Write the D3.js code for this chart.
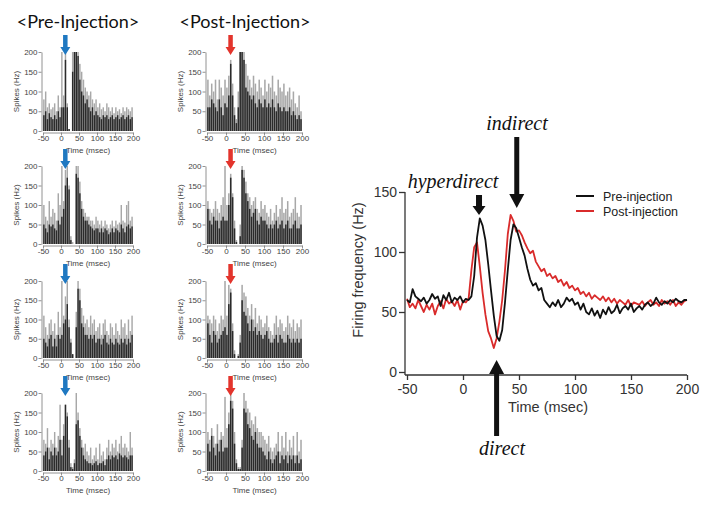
<!DOCTYPE html>
<html><head><meta charset="utf-8">
<script src="https://cdn.jsdelivr.net/npm/d3@7"></script>
<style>body{margin:0;background:#fff} svg{display:block}</style>
</head><body><svg id="c" width="707" height="508"></svg>
<script>
// ---------- DATA ----------
const columnTitles = ["<Pre-Injection>", "<Post-Injection>"];
const binStarts = [-50,-45,-40,-35,-30,-25,-20,-15,-10,-5,0,5,10,15,20,25,30,35,40,45,50,55,60,65,70,75,80,85,90,95,100,105,110,115,120,125,130,135,140,145,150,155,160,165,170,175,180,185,190,195];
const histXTicks = [-50,0,50,100,150,200];
const histYTicks = [0,50,100,150,200];

const pre1Light = [80,100,60,70,55,60,70,50,90,60,200,90,200,70,5,0,200,200,200,200,170,150,130,110,100,90,100,80,70,80,60,70,55,60,50,70,60,50,60,45,60,50,55,45,60,50,60,55,50,60];
const pre1Dark  = [40,50,30,45,35,30,40,30,50,35,60,60,180,60,5,0,150,200,200,190,130,100,90,70,80,60,50,60,40,50,40,35,30,40,35,40,30,35,40,30,35,40,30,35,40,30,35,40,30,35];
const pre2Light = [100,70,60,110,70,90,80,60,130,100,200,110,190,200,150,20,5,0,200,200,160,110,90,80,70,70,60,60,50,70,60,50,60,45,60,50,40,50,60,45,60,50,55,100,60,55,100,110,60,70];
const pre2Dark  = [50,40,30,50,45,50,40,35,60,50,70,90,150,170,140,10,0,0,180,170,130,90,70,60,60,50,45,40,35,40,40,30,40,30,40,35,25,30,40,30,40,35,30,50,40,30,45,50,40,45];
const pre3Light = [110,80,60,90,100,70,90,60,120,80,200,110,160,200,100,50,10,0,120,200,180,130,110,90,100,80,110,90,100,70,80,90,60,90,100,70,60,90,80,60,90,70,60,100,80,90,60,100,70,110];
const pre3Dark  = [50,40,30,50,60,30,50,30,60,50,60,90,100,140,80,40,10,0,80,180,150,90,80,60,60,50,60,50,60,40,50,50,35,50,60,40,35,50,40,35,50,40,35,50,40,50,35,50,40,60];
const pre4Light = [80,70,110,60,80,70,100,60,90,170,80,120,170,150,80,20,10,30,200,150,110,80,60,70,50,40,60,30,40,60,30,70,40,50,30,60,80,50,70,60,80,50,70,90,60,70,60,50,100,60];
const pre4Dark  = [40,50,60,30,50,40,60,40,50,80,40,90,170,140,60,10,5,20,120,130,90,60,40,30,25,20,20,15,20,25,15,20,20,25,15,30,40,30,40,35,40,30,45,40,35,40,35,30,40,40];

const post1Light = [130,90,120,100,130,80,130,110,90,130,110,140,180,120,60,30,100,200,200,200,170,140,130,110,140,120,100,130,110,90,130,100,120,110,140,100,90,130,110,100,120,90,100,110,80,100,70,60,90,50];
const post1Dark  = [60,60,80,70,60,50,80,60,40,70,60,90,170,90,40,20,60,200,200,180,110,100,90,80,90,70,60,80,70,60,80,60,70,60,80,60,50,70,60,50,60,50,50,60,40,50,40,30,40,30];
const post2Light = [110,90,80,90,110,90,80,100,120,200,100,130,180,130,60,10,0,50,200,190,160,130,120,100,110,120,90,80,110,90,100,80,70,90,60,80,100,70,90,120,80,90,110,70,80,90,120,80,70,100];
const post2Dark  = [90,60,50,70,60,60,40,60,70,60,60,100,170,120,40,5,0,20,190,170,130,110,90,70,80,90,60,50,70,60,60,50,40,50,40,50,60,40,50,60,40,50,60,40,40,50,60,40,40,50];
const post3Light = [110,100,90,110,100,70,90,110,100,200,110,190,180,90,20,0,10,60,190,170,160,130,110,140,100,130,90,110,100,80,90,110,80,70,60,90,110,80,100,90,70,80,110,90,80,100,70,90,80,100];
const post3Dark  = [90,60,40,70,60,40,50,60,70,80,60,140,170,70,10,0,5,40,150,120,110,90,70,100,70,80,60,70,60,50,60,70,50,40,40,50,60,40,60,50,40,40,60,50,40,50,40,50,40,50];
const post4Light = [100,80,110,90,70,120,80,100,90,190,110,150,200,180,100,30,10,10,80,200,180,160,150,130,120,140,110,100,100,90,80,70,90,60,50,60,70,100,50,90,60,100,50,80,60,90,40,100,50,80];
const post4Dark  = [70,50,90,60,40,70,50,80,50,60,60,120,180,160,70,20,5,5,60,160,150,120,110,90,80,100,70,60,60,50,40,30,50,30,20,30,40,50,20,40,30,40,20,40,30,40,20,40,20,30];

const lineTimes = [-50,-47.5,-45,-42.5,-40,-37.5,-35,-32.5,-30,-27.5,-25,-22.5,-20,-17.5,-15,-12.5,-10,-7.5,-5,-2.5,0,2.5,5,7.5,10,12.5,15,17.5,20,22.5,25,27.5,30,32.5,35,37.5,40,42.5,45,47.5,50,52.5,55,57.5,60,62.5,65,67.5,70,72.5,75,77.5,80,82.5,85,87.5,90,92.5,95,97.5,100,102.5,105,107.5,110,112.5,115,117.5,120,122.5,125,127.5,130,132.5,135,137.5,140,142.5,145,147.5,150,152.5,155,157.5,160,162.5,165,167.5,170,172.5,175,177.5,180,182.5,185,187.5,190,192.5,195,197.5,200];
const preInjection = [60,58,69,63,61,59,62,57,60,65,61,63,55,64,60,66,58,62,60,63,58,61,60,63,80,112,128,122,110,90,68,47,30,26,35,58,85,110,123,120,112,104,97,86,77,72,74,68,70,60,57,54,58,55,60,54,57,62,59,61,56,58,52,57,50,48,53,47,51,45,52,48,54,49,51,56,49,53,55,52,57,50,53,55,52,56,58,55,57,62,58,56,59,57,60,58,61,59,58,60,60];
const postInjection = [61,54,57,53,60,55,50,56,52,57,48,55,59,53,61,57,59,55,60,52,59,58,61,85,104,108,88,66,48,34,28,20,28,42,60,85,115,131,126,117,118,114,108,103,99,101,92,88,84,86,80,82,78,80,75,77,72,75,70,72,68,70,65,67,63,66,61,64,62,60,63,59,62,58,61,57,60,58,56,60,55,58,57,56,59,55,58,60,56,58,55,60,57,59,56,60,55,58,56,59,60];
const mainXTicks = [-50,0,50,100,150,200];
const mainYTicks = [0,50,100,150];
const legendLabels = ["Pre-injection","Post-injection"];
const annotationLabels = ["hyperdirect","indirect","direct"];

// ---------- LAYOUT ----------
const svg = d3.select("#c");
const fmt = d => String(d);
const cols = [
  {l:43, r:133, arrow:"#1f78c1", sets:[[pre1Light,pre1Dark],[pre2Light,pre2Dark],[pre3Light,pre3Dark],[pre4Light,pre4Dark]], titleX:78},
  {l:207, r:302, arrow:"#e3342c", sets:[[post1Light,post1Dark],[post2Light,post2Dark],[post3Light,post3Dark],[post4Light,post4Dark]], titleX:245}
];
const rows = [{t:52,b:131},{t:166,b:244},{t:281,b:358},{t:393,b:471}];

function arrowPath(x, yStart, yTip, shaftW, headW, headL){
  const dir = yTip > yStart ? 1 : -1;
  const yNeck = yTip - dir*headL;
  return `M${x-shaftW/2},${yStart} L${x+shaftW/2},${yStart} L${x+shaftW/2},${yNeck} L${x+headW/2},${yNeck} L${x},${yTip} L${x-headW/2},${yNeck} L${x-shaftW/2},${yNeck} Z`;
}

// titles
cols.forEach((c,ci)=>{
  svg.append("text").attr("x", c.titleX).attr("y", 28).attr("text-anchor","middle")
    .attr("font-family","Lato, 'Open Sans', sans-serif").attr("font-size", 18).attr("fill","#111")
    .text(columnTitles[ci]);
});

// histograms
cols.forEach((c)=>{
  rows.forEach((r,ri)=>{
    const [light, dark] = c.sets[ri];
    const xs = d3.scaleLinear().domain([-50,200]).range([c.l, c.r]);
    const ys = d3.scaleLinear().domain([0,200]).range([r.b, r.t]);
    const g = svg.append("g");
    const bw = xs(5)-xs(0);
    g.selectAll("rect.l").data(light).join("rect")
      .attr("x",(d,i)=>xs(binStarts[i])+0.15).attr("width",bw*0.8)
      .attr("y",d=>ys(d)).attr("height",d=>ys(0)-ys(d)).attr("fill","#a8a8a8");
    g.selectAll("rect.d").data(dark).join("rect")
      .attr("x",(d,i)=>xs(binStarts[i])+0.15).attr("width",bw*0.8)
      .attr("y",d=>ys(d)).attr("height",d=>ys(0)-ys(d)).attr("fill","#2b2b2b");
    // axes
    const ya = g.append("g").attr("transform",`translate(${c.l-1.5},0)`)
      .call(d3.axisLeft(ys).tickValues(histYTicks).tickFormat(fmt).tickSize(3).tickSizeOuter(0));
    const xa = g.append("g").attr("transform",`translate(0,${r.b+1.5})`)
      .call(d3.axisBottom(xs).tickValues(histXTicks).tickFormat(fmt).tickSize(3).tickSizeOuter(0));
    [ya,xa].forEach(a=>{
      a.selectAll("path,line").attr("stroke","#777").attr("stroke-width",0.8);
      a.selectAll("text").attr("font-family","'Liberation Sans', Arial, sans-serif").attr("font-size",8).attr("fill","#444");
    });
    ya.selectAll("text").attr("x",-4);
    xa.selectAll("text").attr("y",2.5);
    g.append("text").attr("x",(c.l+c.r)/2).attr("y",r.b+21.5).attr("text-anchor","middle")
      .attr("font-family","'Liberation Sans', Arial, sans-serif").attr("font-size",8).attr("fill","#444").text("Time (msec)");
    g.append("text").attr("transform",`translate(${c.l-24},${(r.t+r.b)/2}) rotate(-90)`).attr("text-anchor","middle")
      .attr("font-family","'Liberation Sans', Arial, sans-serif").attr("font-size",8).attr("fill","#444").text("Spikes (Hz)");
    // stimulus arrow
    const ax = xs(12);
    g.append("path").attr("d", arrowPath(ax, r.t-17, r.t+3, 4.5, 10, 8)).attr("fill", c.arrow);
  });
});

// ---------- MAIN CHART ----------
const x = d3.scaleLinear().domain([-50,200]).range([407,687]);
const y = d3.scaleLinear().domain([0,150]).range([372,192]);
const mg = svg.append("g");
const yAx = mg.append("g").attr("transform","translate(405,0)")
  .call(d3.axisLeft(y).tickValues(mainYTicks).tickFormat(fmt).tickSize(6).tickSizeOuter(0));
const xAx = mg.append("g").attr("transform","translate(0,375)")
  .call(d3.axisBottom(x).tickValues(mainXTicks).tickFormat(fmt).tickSize(5).tickSizeOuter(0));
[yAx,xAx].forEach(a=>{
  a.selectAll("path,line").attr("stroke","#333").attr("stroke-width",1.3);
  a.selectAll("text").attr("font-family","'Liberation Sans', Arial, sans-serif").attr("font-size",14).attr("fill","#333");
});
yAx.select("path.domain").attr("d","M0,192V375");
xAx.select("path.domain").attr("d","M405,0H687");
yAx.selectAll("text").attr("x",-8);
xAx.selectAll("text").attr("y",9);
mg.append("text").attr("x",548).attr("y",412).attr("text-anchor","middle")
  .attr("font-family","'Liberation Sans', Arial, sans-serif").attr("font-size",14.5).attr("fill","#333").text("Time (msec)");
mg.append("text").attr("transform","translate(363,270) rotate(-90)").attr("text-anchor","middle")
  .attr("font-family","'Liberation Sans', Arial, sans-serif").attr("font-size",14.5).attr("fill","#333").text("Firing frequency (Hz)");

const line = d3.line().x((d,i)=>x(lineTimes[i])).y(d=>y(d));
mg.append("path").datum(postInjection).attr("d",line).attr("fill","none").attr("stroke","#d92b2b").attr("stroke-width",1.8).attr("stroke-linejoin","round");
mg.append("path").datum(preInjection).attr("d",line).attr("fill","none").attr("stroke","#111").attr("stroke-width",1.8).attr("stroke-linejoin","round");

// legend
const legColors = ["#111","#d92b2b"];
legendLabels.forEach((lab,i)=>{
  const ly = 196 + i*15;
  mg.append("line").attr("x1",576).attr("x2",594).attr("y1",ly).attr("y2",ly).attr("stroke",legColors[i]).attr("stroke-width",2);
  mg.append("text").attr("x",603).attr("y",ly+4.5).attr("font-family","'Liberation Sans', Arial, sans-serif")
    .attr("font-size",12.5).attr("fill","#222").text(lab);
});

// annotations
const serif = "'Liberation Serif', 'DejaVu Serif', serif";
mg.append("text").attr("x",453).attr("y",188).attr("text-anchor","middle").attr("font-family",serif)
  .attr("font-style","italic").attr("font-size",20).attr("fill","#111").text(annotationLabels[0]);
mg.append("path").attr("d",arrowPath(x(14.3),195,215,6,13,9)).attr("fill","#111");
mg.append("text").attr("x",517).attr("y",130).attr("text-anchor","middle").attr("font-family",serif)
  .attr("font-style","italic").attr("font-size",20).attr("fill","#111").text(annotationLabels[1]);
mg.append("path").attr("d",arrowPath(x(48),137,208,5,15,14)).attr("fill","#111");
mg.append("path").attr("d",arrowPath(x(30),436,360,5,15,14)).attr("fill","#111");
mg.append("text").attr("x",502).attr("y",455).attr("text-anchor","middle").attr("font-family",serif)
  .attr("font-style","italic").attr("font-size",20).attr("fill","#111").text(annotationLabels[2]);
</script></body></html>
